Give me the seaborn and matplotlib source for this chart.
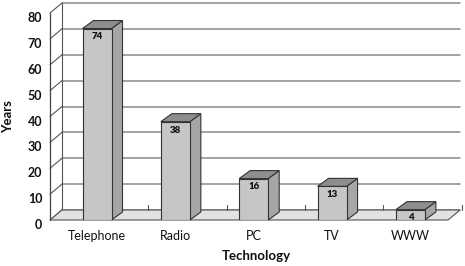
import numpy as np
import pandas as pd
import matplotlib
matplotlib.use("Agg")
import matplotlib.pyplot as plt
import seaborn as sns
from matplotlib.patches import Polygon
from matplotlib.lines import Line2D
from matplotlib.transforms import IdentityTransform, ScaledTranslation

# ---- data ----
technologies = ["Telephone", "Radio", "PC", "TV", "WWW"]
years = [74, 38, 16, 13, 4]
y_ticks = [0, 10, 20, 30, 40, 50, 60, 70, 80]

df = pd.DataFrame({"Technology": technologies, "Years": years})

sns.set_theme(style="white")
plt.rcParams["font.family"] = ["Lato", "DejaVu Sans"]

DPI = 100
fig = plt.figure(figsize=(4.65, 2.66), dpi=DPI)
W, H = 465, 266
ax = fig.add_axes([50 / W, 46 / H, 398 / W, 207 / H])
ax.set_facecolor("none")

sns.barplot(data=df, x="Technology", y="Years", color="#c6c6c6", saturation=1,
            width=0.37, edgecolor="#333333", linewidth=0.8, ax=ax)
bars = list(ax.patches)

ax.set_xlim(-0.6, 4.48)
ax.set_ylim(0, 80)
for s in ax.spines.values():
    s.set_visible(False)
ax.grid(False)

# depth offsets (pixels)
WX, WY = 12, 10      # back wall offset
BX, BY = 11, 8       # bar depth

T = ax.transData
ident = IdentityTransform()
x_lo, x_hi = ax.get_xlim()

def P(x, y):
    return T.transform((x, y))

def add_line(xs, ys, color, lw, z):
    ln = Line2D(xs, ys, transform=ident, color=color, lw=lw, zorder=z)
    ln.set_clip_on(False)
    ax.add_artist(ln)

def add_poly(pts, fc, z, ec="#333333", lw=0.8):
    pg = Polygon(pts, closed=True, transform=ident, facecolor=fc,
                 edgecolor=ec, lw=lw, zorder=z)
    pg.set_clip_on(False)
    ax.add_artist(pg)

# back wall gridlines + connectors to the front axis
for t in y_ticks:
    a = P(x_lo, t); b = P(x_hi, t)
    add_line([a[0] + WX, b[0] + WX], [a[1] + WY, b[1] + WY], "#8a8a8a", 1.1, 1)
    add_line([a[0], a[0] + WX], [a[1], a[1] + WY], "#555555", 0.8, 1)
a = P(x_lo, 0); b = P(x_lo, 80)
add_line([a[0] + WX, b[0] + WX], [a[1] + WY, b[1] + WY], "#555555", 0.8, 1)
add_line([a[0], b[0]], [a[1], b[1]], "#444444", 0.9, 1)

# floor
fl = P(x_lo, 0); fr = P(x_hi, 0)
add_poly([fl, fr, (fr[0] + WX, fr[1] + WY), (fl[0] + WX, fl[1] + WY)],
         "#e2e2e2", 2, ec="#555555")
for i in range(len(technologies)):
    m = P(i + 0.5, 0)
    add_line([m[0] + WX, m[0] + WX], [m[1] + WY, m[1] + WY + 5], "#555555", 0.8, 2)

# bars: front faces from seaborn, plus side/top faces
for p in bars:
    p.set_zorder(5)
    x0 = p.get_x(); w = p.get_width(); h = p.get_height()
    tl = P(x0, h); tr = P(x0 + w, h); br = P(x0 + w, 0)
    add_poly([br, tr, (tr[0] + BX, tr[1] + BY), (br[0] + BX, br[1] + BY)], "#a6a6a6", 4)
    add_poly([tl, tr, (tr[0] + BX, tr[1] + BY), (tl[0] + BX, tl[1] + BY)], "#8e8e8e", 4)

# value labels
for i, v in enumerate(years):
    ax.annotate(str(v), xy=(i, v), xytext=(0, -6), textcoords="offset points",
                ha="center", va="center", fontsize=7, fontweight="heavy",
                color="#111111", zorder=10)

# ticks
ax.set_yticks(y_ticks)
ax.set_yticklabels([str(t) for t in y_ticks], fontsize=9, fontweight="bold", color="#111111")
ax.tick_params(axis="y", length=0, pad=5.5)
ax.tick_params(axis="x", length=0, pad=7.5, labelsize=9, colors="#111111")
off = ScaledTranslation(0, -4 / DPI, fig.dpi_scale_trans)
for lab in ax.get_yticklabels():
    lab.set_transform(lab.get_transform() + off)

ax.set_xlabel("Technology", fontsize=9.5, fontweight="bold", color="#111111")
ax.set_ylabel("Years", fontsize=9.5, fontweight="bold", color="#111111")
ax.xaxis.set_label_coords((256 - 50) / 398, (220 - 250) / 207)
ax.yaxis.set_label_coords((14 - 50) / 398, (220 - 117) / 207)

fig.savefig("out.png", dpi=DPI, facecolor="white")
